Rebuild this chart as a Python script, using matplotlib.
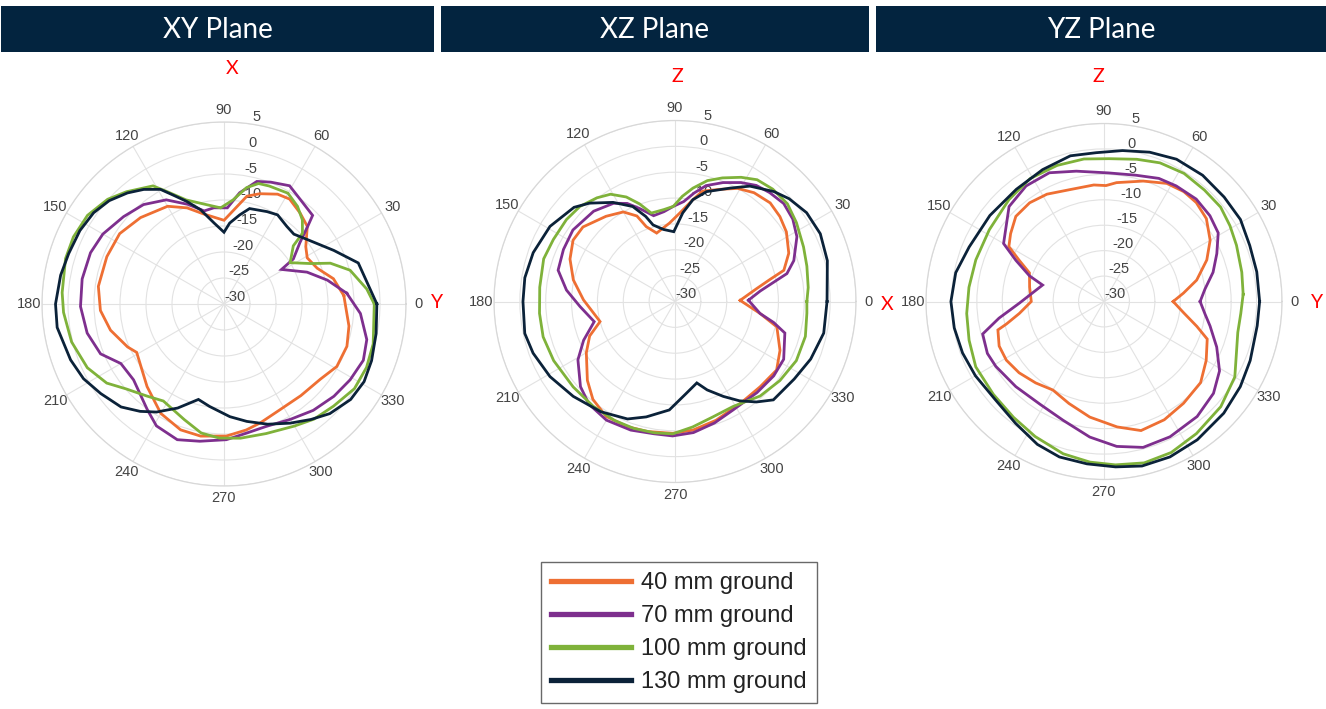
import numpy as np
import matplotlib
matplotlib.use("Agg")
import matplotlib.pyplot as plt
from matplotlib.patches import Rectangle

# ---------------- data (gain in dB vs. angle in degrees) ----------------
series_labels = ["40 mm ground", "70 mm ground", "100 mm ground", "130 mm ground"]
series_colors = ["#EE6F33", "#7E2F8E", "#7FB23A", "#0B2239"]
plane_titles = ["XY Plane", "XZ Plane", "YZ Plane"]
theta_ticks = [0, 30, 60, 90, 120, 150, 180, 210, 240, 270, 300, 330]
r_ticks = [-30, -25, -20, -15, -10, -5, 0, 5]

# XY plane
xy_ang_40 = [4, 13, 21, 29, 35, 43, 50, 58, 64, 72, 78, 84, 90, 103, 111, 120, 134, 146, 158, 172,
             183, 193, 204, 209, 227, 240, 251, 260, 271, 280, 287, 298, 310, 322, 331, 341, 350]
xy_db_40 = [-6.9, -8.4, -10.8, -11.7, -10.8, -8.1, -7.2, -6.2, -6.5, -7.7, -8.8, -11.8, -13.9, -12.2,
            -10.2, -8.3, -6.9, -5.8, -5.7, -5.6, -6.2, -7.6, -9.7, -10.8, -8.3, -5.7, -4.4, -4.2, -4.6,
            -5.4, -6.1, -7.0, -7.0, -6.5, -5.2, -5.0, -5.6]
xy_ang_70 = [5, 13, 21, 31, 33, 39, 43, 45, 54, 61, 69, 75, 82, 88, 96, 102, 110, 119, 129, 139, 150,
             159, 170, 181, 192, 202, 210, 220, 234, 241, 251, 260, 271, 280, 289, 300, 310, 320, 329,
             338, 346, 356]
xy_db_70 = [-6.3, -9.6, -12.9, -17.1, -14.1, -11.2, -7.9, -5.9, -5.1, -4.0, -4.9, -5.6, -8.4, -11.5,
            -11.4, -11.7, -9.6, -7.1, -5.4, -4.4, -3.1, -2.5, -2.3, -2.4, -3.1, -4.4, -7.1, -7.3, -4.9,
            -3.2, -2.4, -3.2, -3.9, -4.8, -5.1, -4.4, -3.3, -2.4, -1.7, -1.1, -1.7, -3.7]
xy_ang_100 = [0, 6, 15, 21, 25, 32, 40, 42, 47, 53, 60, 69, 74, 79, 85, 92, 100, 110, 117, 121, 131,
              138, 147, 156, 164, 176, 183, 194, 205, 214, 221, 230, 238, 251, 260, 268, 277, 288,
              300, 308, 317, 327, 336, 345]
xy_db_100 = [-1.1, -2.4, -4.9, -8.1, -11.6, -15.0, -12.6, -9.7, -7.9, -6.5, -5.4, -5.7, -5.9, -7.2,
             -9.9, -11.5, -10.6, -8.7, -5.7, -3.5, -1.4, 0.1, 1.3, 1.7, 1.7, 1.2, 0.9, 0.2, -1.0, -2.8,
             -5.1, -6.9, -8.0, -6.5, -4.8, -4.2, -4.0, -3.8, -2.9, -1.9, -1.2, -0.1, 0.0, -0.3]
xy_ang_130 = [0, 17, 26, 38, 45, 51, 59, 65, 75, 80, 86, 90, 97, 104, 110, 115, 119, 125, 131, 138,
              145, 153, 162, 170, 180, 188, 200, 208, 216, 225, 232, 238, 246, 255, 262, 273, 281,
              290, 299, 307, 314, 323, 331, 339, 349]
xy_db_130 = [-0.6, -3.0, -6.5, -9.8, -11.0, -10.8, -10.0, -10.4, -11.0, -12.6, -14.4, -16.2, -14.3,
             -11.3, -9.0, -6.9, -4.8, -3.1, -1.7, -0.3, 0.6, 1.1, 1.4, 1.9, 2.4, 2.4, 1.4, 0.6, -0.7,
             -2.0, -3.8, -5.5, -8.1, -11.0, -10.1, -8.3, -7.0, -5.4, -3.8, -2.2, -0.7, 0.5, 0.8, 0.4,
             -0.2]

# XZ plane
xz_ang_40 = [1, 9, 13, 16, 23, 32, 39, 46, 54, 61, 68, 76, 80, 87, 94, 105, 111, 114, 120, 129, 141,
             149, 158, 168, 179, 195, 202, 210, 222, 230, 239, 249, 258, 269, 278, 289, 303, 315,
             326, 335, 346, 352]
xz_db_40 = [-17.4, -14.0, -11.2, -8.1, -6.1, -4.6, -3.9, -3.5, -4.0, -5.0, -6.6, -8.0, -10.0, -12.9,
            -14.8, -16.3, -14.5, -11.9, -10.0, -8.8, -7.1, -7.0, -8.1, -9.9, -12.3, -15.0, -12.2,
            -10.2, -7.2, -5.3, -4.1, -4.1, -4.3, -4.5, -4.9, -5.7, -6.6, -6.7, -6.3, -7.6, -9.7, -13.4]
xz_ang_70 = [1, 7, 11, 14, 19, 28, 35, 42, 49, 55, 61, 68, 75, 80, 85, 91, 97, 104, 111, 116, 122,
             132, 145, 155, 165, 174, 183, 194, 203, 211, 222, 230, 240, 251, 261, 269, 278, 288,
             298, 312, 323, 332, 344, 348, 352]
xz_db_70 = [-15.8, -13.4, -10.6, -7.7, -5.7, -3.3, -2.2, -1.7, -2.1, -2.6, -3.7, -5.2, -6.8, -8.7,
            -10.6, -11.6, -12.5, -12.9, -10.7, -8.9, -7.6, -6.5, -5.9, -6.2, -6.6, -8.9, -11.6, -13.9,
            -10.8, -8.1, -5.4, -4.1, -3.5, -3.7, -4.1, -4.0, -4.4, -5.3, -6.2, -6.3, -6.1, -6.2, -7.9,
            -10.5, -13.4]
xz_ang_100 = [0, 6, 15, 23, 33, 41, 49, 56, 62, 69, 75, 81, 86, 91, 97, 105, 110, 115, 121, 127, 135,
              143, 153, 162, 174, 185, 195, 206, 220, 232, 243, 252, 261, 269, 278, 288, 299, 312,
              323, 334, 345, 355]
xz_db_100 = [-4.5, -4.1, -3.6, -3.0, -2.0, -1.2, -1.2, -1.6, -2.8, -4.4, -5.8, -7.8, -9.6, -11.6,
             -12.1, -12.3, -9.9, -7.7, -5.8, -4.9, -4.0, -3.7, -3.6, -3.3, -3.7, -3.7, -3.6, -3.9, -4.3,
             -4.3, -4.2, -4.2, -4.3, -4.4, -5.5, -6.5, -6.8, -5.4, -4.6, -3.9, -3.9, -4.4]
xz_ang_130 = [0, 15, 25, 34, 42, 48, 57, 64, 74, 80, 85, 91, 99, 106, 109, 114, 122, 131, 137, 149,
              161, 171, 180, 192, 200, 211, 223, 236, 248, 256, 267, 277, 285, 290, 297, 303, 309,
              315, 327, 337, 348]
xz_db_130 = [-0.6, 0.5, 1.0, 0.7, -0.3, -1.4, -3.4, -5.6, -7.9, -10.0, -12.8, -16.5, -15.9, -14.6,
             -12.6, -9.9, -7.4, -4.8, -3.3, -1.8, -1.0, -0.6, -0.6, -0.3, -0.8, -1.8, -3.1, -4.3, -5.5,
             -7.0, -9.0, -12.1, -13.7, -11.8, -9.4, -7.1, -5.0, -3.1, -2.5, -1.5, -0.6]

# YZ plane
yz_ang_40 = [0, 6, 13, 22, 30, 39, 47, 54, 62, 72, 84, 89, 95, 107, 118, 127, 136, 144, 150, 154,
             159, 169, 180, 188, 193, 195, 203, 211, 220, 230, 240, 251, 263, 276, 286, 297, 308,
             320, 330, 340, 345, 352]
yz_db_40 = [-16.4, -14.3, -11.3, -8.2, -5.9, -4.1, -3.4, -3.3, -3.7, -5.1, -6.5, -7.2, -7.0, -7.0,
            -6.1, -5.7, -5.9, -7.3, -8.4, -11.4, -14.3, -15.1, -15.7, -13.2, -10.3, -8.4, -7.6, -7.6,
            -8.2, -9.1, -9.9, -8.8, -7.1, -5.2, -3.6, -3.9, -4.6, -5.2, -6.8, -8.4, -11.1, -14.2]
yz_ang_70 = [0, 7, 15, 23, 31, 39, 48, 58, 66, 76, 88, 102, 113, 124, 135, 150, 155, 161, 165, 181,
             189, 195, 204, 211, 224, 238, 251, 264, 275, 285, 296, 309, 320, 329, 338, 347, 353]
yz_db_70 = [-11.1, -10.0, -7.8, -5.9, -3.8, -3.2, -2.9, -3.2, -3.5, -4.4, -4.7, -3.8, -2.5, -2.6,
            -3.6, -7.2, -10.9, -14.5, -17.5, -13.4, -9.1, -5.3, -4.9, -5.2, -5.9, -6.2, -5.3, -3.2,
            -1.4, -0.3, -0.4, -0.9, -1.9, -3.5, -6.1, -8.6, -10.0]
yz_ang_100 = [3, 12, 23, 31, 39, 48, 58, 68, 77, 88, 98, 109, 121, 133, 148, 162, 174, 185, 196, 207,
              220, 232, 243, 255, 265, 274, 284, 294, 305, 318, 330, 339, 347, 355]
yz_db_100 = [-2.6, -2.3, -1.7, -1.1, -0.5, -0.5, -0.3, -0.6, -1.3, -1.9, -1.7, -1.7, -1.8, -2.6, -3.4,
             -3.5, -3.3, -2.9, -2.4, -1.7, -1.6, -1.1, -0.2, 1.0, 1.7, 2.2, 2.7, 2.5, 1.7, 0.9, -0.3,
             -2.1, -3.0, -3.0]
yz_ang_130 = [0, 11, 21, 31, 41, 52, 63, 73, 83, 93, 103, 115, 128, 143, 158, 169, 180, 190, 200,
              210, 222, 234, 245, 254, 264, 274, 283, 293, 304, 317, 328, 338, 351]
yz_db_130 = [0.6, 0.6, 0.7, 1.3, 1.3, 1.5, 1.4, 0.7, -0.1, -0.7, -0.6, -1.4, -2.0, -1.9, -1.4, -0.3,
             0.1, -0.1, -0.4, -0.8, -1.2, -0.4, 1.0, 1.8, 2.1, 2.6, 3.2, 3.2, 2.8, 2.2, 1.6, 1.0, 0.5]

plane_data = [
    [(xy_ang_40, xy_db_40), (xy_ang_70, xy_db_70), (xy_ang_100, xy_db_100), (xy_ang_130, xy_db_130)],
    [(xz_ang_40, xz_db_40), (xz_ang_70, xz_db_70), (xz_ang_100, xz_db_100), (xz_ang_130, xz_db_130)],
    [(yz_ang_40, yz_db_40), (yz_ang_70, yz_db_70), (yz_ang_100, yz_db_100), (yz_ang_130, yz_db_130)],
]

# ---------------- figure ----------------
W, H = 1326, 709
fig = plt.figure(figsize=(W / 100, H / 100), dpi=100)
fig.patch.set_facecolor("white")

def fx(px):
    return px / W

def fy(py):
    return 1 - py / H

# polar axes: centre (px) and radius (px)
ax_geom = [(224, 304, 182), (675, 301.5, 181), (1104, 301.5, 178)]
header_boxes = [(1, 434), (441, 869), (876, 1326)]
tick_font = "Liberation Sans"

axes = []
for (cx, cy, R), series in zip(ax_geom, plane_data):
    ax = fig.add_axes([fx(cx - R), fy(cy + R), 2 * R / W, 2 * R / H], projection="polar")
    for (ang, db), col, lab in zip(series, series_colors, series_labels):
        a = np.deg2rad(np.r_[ang, ang[0] + 360])
        r = np.r_[db, db[0]]
        ax.plot(a, r, color=col, lw=2.0, label=lab, solid_joinstyle="miter")
    ax.set_rlim(-30, 5)
    ax.set_rticks(r_ticks)
    ax.set_yticklabels([str(t) for t in r_ticks])
    ax.set_rlabel_position(81)
    ax.set_thetagrids(theta_ticks, labels=[str(t) for t in theta_ticks])
    ax.grid(True, color="#e2e2e2", lw=0.8)
    ax.spines["polar"].set_color("#d8d8d8")
    ax.spines["polar"].set_linewidth(0.9)
    ax.tick_params(axis="x", pad=-1.5, labelsize=10.5, labelcolor="#444444")
    ax.tick_params(axis="y", labelsize=10.5, labelcolor="#444444")
    for lbl in ax.get_xticklabels() + ax.get_yticklabels():
        lbl.set_fontfamily(tick_font)
    axes.append(ax)

# header bars
for (x0, x1), title in zip(header_boxes, plane_titles):
    fig.add_artist(Rectangle((fx(x0), fy(52)), (x1 - x0) / W, 46 / H,
                             transform=fig.transFigure, facecolor="#03243F",
                             edgecolor="none", zorder=0))
    fig.text(fx((x0 + x1) / 2), fy(30), title, color="white", fontsize=20,
             family="Lato", ha="center", va="center")

# red axis-direction letters
axis_letters = [("X", 232, 69), ("Y", 437, 302), ("Z", 677, 76),
                ("X", 887, 304), ("Z", 1098, 77), ("Y", 1317, 302)]
for txt, px, py in axis_letters:
    fig.text(fx(px), fy(py), txt, color="red", fontsize=14, family="Lato",
             ha="center", va="center")

# legend
handles, labels = axes[0].get_legend_handles_labels()
leg = fig.legend(handles, labels, loc="upper left", bbox_to_anchor=(fx(541), fy(562)),
                 borderaxespad=0, frameon=True, fancybox=False,
                 handlelength=3.4, handletextpad=0.42, labelspacing=0.47,
                 borderpad=0.42, prop={"family": tick_font, "size": 17})
leg.get_frame().set_edgecolor("#444444")
leg.get_frame().set_linewidth(1.0)
for line in leg.get_lines():
    line.set_linewidth(3.8)
for t in leg.get_texts():
    t.set_color("#222222")

fig.savefig("out.png", dpi=100)
